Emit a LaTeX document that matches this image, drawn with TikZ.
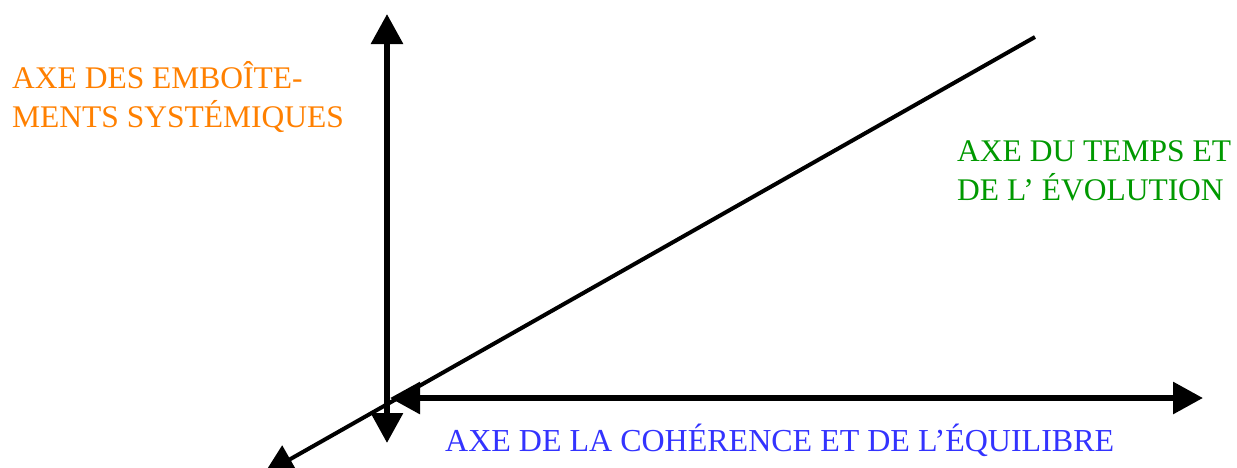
\documentclass[tikz,border=0pt]{standalone}
\usepackage{fontspec}
\setmainfont{Liberation Serif}
\usetikzlibrary{arrows.meta}
\definecolor{axorange}{RGB}{255,128,0}
\definecolor{axgreen}{RGB}{0,153,0}
\definecolor{axblue}{RGB}{51,51,255}
\begin{document}
\begin{tikzpicture}[x=1pt,y=-1pt,
  tip/.tip={Triangle[length=30pt,width=31pt]},
  mainaxis/.style={line width=6pt},
  diagaxis/.style={line width=4pt},
  lbl/.style={inner sep=0pt, anchor=base west, align=left, font=\fontsize{31.5}{39}\selectfont}]
\useasboundingbox (0,0) rectangle (1237,467);
\fill[white] (0,0) rectangle (1237,467);
\coordinate (vtop) at (387,14);
\coordinate (vbot) at (387,443);
\coordinate (hleft) at (390,398);
\coordinate (hright) at (1203,398);
\coordinate (dtop) at (1035,37);
\coordinate (dbot) at (264,474);
\draw[diagaxis,-tip] (dtop) -- (dbot);
\draw[mainaxis,tip-tip] (vbot) -- (vtop);
\draw[mainaxis,tip-tip] (hleft) -- (hright);
\node[lbl, text=axorange] (sys) at (12,127) {AXE DES EMBOÎTE-\\MENTS SYSTÉMIQUES};
\node[lbl, text=axgreen] (temps) at (957,200) {AXE DU TEMPS ET\\DE L’ ÉVOLUTION};
\node[lbl, text=axblue, font=\fontsize{32}{39}\selectfont] (coh) at (445,451) {AXE DE LA COHÉRENCE ET DE L’ÉQUILIBRE};
\end{tikzpicture}
\end{document}
